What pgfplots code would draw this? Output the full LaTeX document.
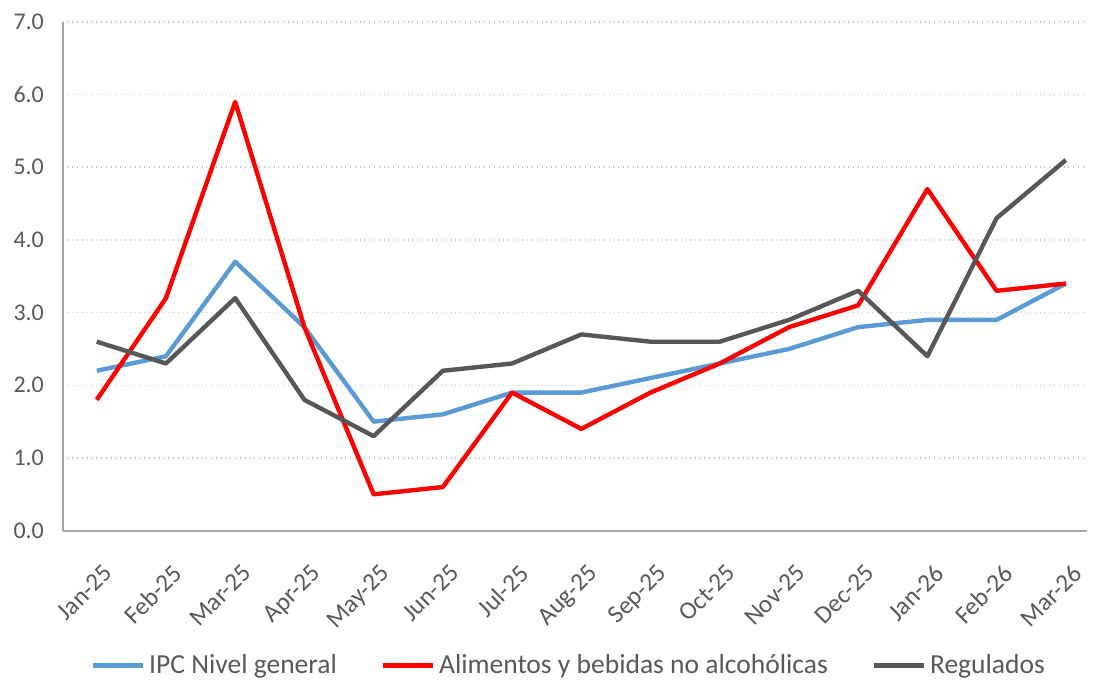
\documentclass[border=0pt]{standalone}
\usepackage{fontspec}
\setmainfont{Carlito}
\usepackage{pgfplots}
\pgfplotsset{compat=1.18}
\definecolor{ipcB}{HTML}{5B9BD5}
\definecolor{aliR}{HTML}{FF0000}
\definecolor{regG}{HTML}{575757}
\definecolor{axG}{HTML}{A6A6A6}
\definecolor{txtG}{HTML}{595959}

\begin{document}
\begin{tikzpicture}
\begin{axis}[scale only axis, width=513.5pt, height=255pt,
  xmin=-0.49, xmax=14.31, ymin=0, ymax=7,
  axis x line*=bottom, axis y line*=left,
  axis line style={axG, line width=1pt, -},
  xtick={0,...,14},
  xticklabels={Jan-25,Feb-25,Mar-25,Apr-25,May-25,Jun-25,Jul-25,Aug-25,Sep-25,Oct-25,Nov-25,Dec-25,Jan-26,Feb-26,Mar-26},
  ytick={0,1,...,7},
  yticklabel style={/pgf/number format/fixed, /pgf/number format/fixed zerofill, /pgf/number format/precision=1, xshift=-6pt},
  /pgf/number format/assume math mode=true,
  major tick length=0pt,
  ymajorgrids, grid style={axG!70, dotted, line width=0.8pt},
  tick label style={font=\fontsize{12}{14}\selectfont, text=txtG},
  xticklabel style={font=\fontsize{12.6}{14}\selectfont, rotate=45, anchor=north east, xshift=-6pt, yshift=-10pt},
  legend style={at={(0.495,-0.265)}, anchor=center, draw=none, fill=none,
    legend columns=3, font=\fontsize{13.8}{16}\selectfont, text=txtG,
    /tikz/every even column/.append style={column sep=20pt}},
  legend image code/.code={\draw[#1, line width=2.2pt] (0pt,0pt) -- (25pt,0pt);},
  every axis plot/.append style={line width=2.2pt, line join=round}]
  \addplot[ipcB] coordinates {(0,2.2) (1,2.4) (2,3.7) (3,2.8) (4,1.5) (5,1.6) (6,1.9) (7,1.9) (8,2.1) (9,2.3) (10,2.5) (11,2.8) (12,2.9) (13,2.9) (14,3.4)};
  \addlegendentry{IPC Nivel general}
  \addplot[aliR] coordinates {(0,1.8) (1,3.2) (2,5.9) (3,2.8) (4,0.5) (5,0.6) (6,1.9) (7,1.4) (8,1.9) (9,2.3) (10,2.8) (11,3.1) (12,4.7) (13,3.3) (14,3.4)};
  \addlegendentry{Alimentos y bebidas no alcohólicas}
  \addplot[regG] coordinates {(0,2.6) (1,2.3) (2,3.2) (3,1.8) (4,1.3) (5,2.2) (6,2.3) (7,2.7) (8,2.6) (9,2.6) (10,2.9) (11,3.3) (12,2.4) (13,4.3) (14,5.1)};
  \addlegendentry{Regulados}
\end{axis}
% page size as in the reference
\path (current axis.south west) ++(-31.5pt,-75pt);
\path (current axis.north east) ++(1.5pt,11pt);
\end{tikzpicture}
\end{document}
